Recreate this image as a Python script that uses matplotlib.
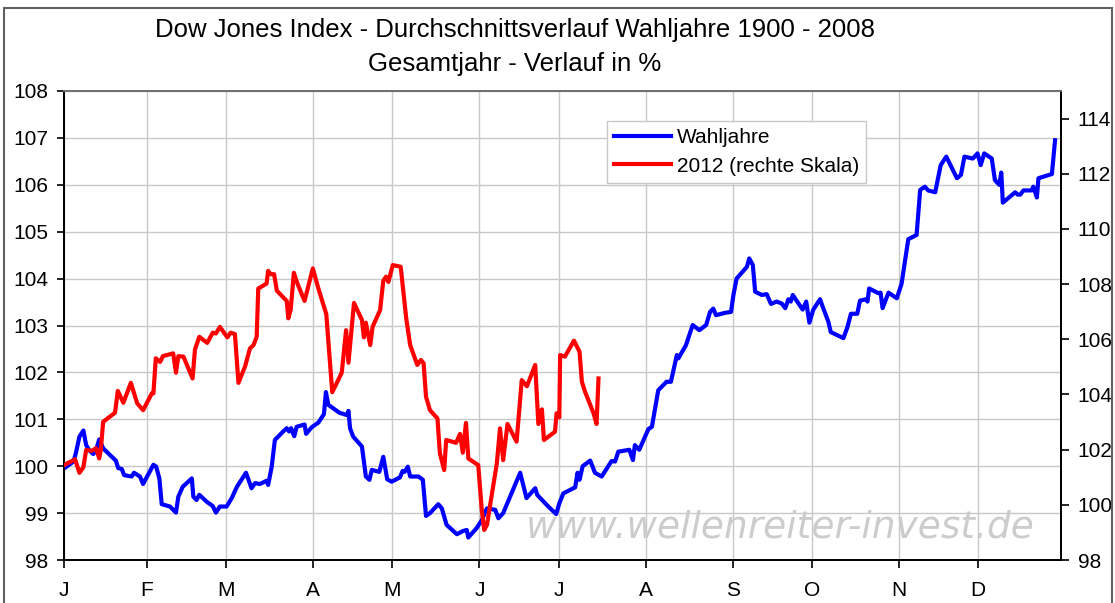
import numpy as np
import matplotlib; matplotlib.use('Agg')
import matplotlib.pyplot as plt
from matplotlib.patches import Rectangle

plt.rcParams['font.family'] = ['Liberation Sans', 'DejaVu Sans']

# trading-day index in the year, value (left scale, Wahljahre average)
BLUE_X = [0, 2.4, 3.0, 3.9, 4.9, 5.6, 6.4, 7.4, 8.1, 8.9, 9.9, 11.6, 13.1, 13.7, 14.6, 15.2, 17.1, 17.7, 19.2, 20.0,
          21.0, 22.6, 23.3, 24.1, 24.7, 26.8, 28.3, 28.9, 30.0, 32.3, 32.7, 33.5, 34.2, 36.1, 37.6, 38.4, 39.4, 41.1,
          42.4, 43.7, 46.0, 47.4, 48.3, 49.5, 51.2, 51.6, 52.5, 53.3, 55.4, 56.3, 56.9, 57.4, 58.2, 58.8, 60.8, 61.2,
          62.6, 64.3, 65.7, 66.2, 66.8, 69.6, 71.5, 71.9, 72.3, 73.1, 75.3, 75.7, 76.3, 77.2, 77.8, 79.7, 80.7, 81.7,
          82.8, 84.9, 85.6, 86.1, 86.9, 87.5, 89.6, 90.7, 91.5, 92.5, 94.6, 95.5, 96.7, 99.3, 100.9, 101.8, 102.2,
          104.3, 105.6, 106.9, 109.0, 109.8, 111.0, 115.3, 116.9, 119.1, 119.6, 122.4, 124.4, 125.2, 126.2, 129.2,
          129.8, 130.3, 131.1, 133.0, 134.2, 135.9, 138.4, 139.3, 140.1, 142.9, 143.8, 144.3, 145.4, 147.7, 148.6,
          150.2, 152.3, 153.4, 154.9, 155.3, 157.2, 158.9, 160.6, 162.3, 163.3, 164.1, 164.8, 167.1, 168.6, 169.2,
          170.0, 172.6, 173.2, 174.1, 174.7, 176.4, 177.6, 178.7, 180.1, 181.4, 182.3, 183.1, 183.7, 184.2, 186.7,
          187.6, 188.4, 189.4, 191.1, 191.9, 193.2, 193.8, 197.0, 198.0, 198.9, 200.5, 201.2, 202.7, 203.1, 203.5,
          205.8, 206.4, 206.9, 208.4, 210.5, 211.7, 213.4, 215.5, 216.4, 217.6, 218.4, 220.2, 221.6, 223.0, 225.7,
          226.7, 227.6, 229.7, 230.9, 231.7, 232.6, 234.5, 235.3, 236.4, 236.9, 237.3, 240.4, 241.1, 241.7, 242.5,
          244.6, 245.0, 245.9, 246.3, 249.7, 250.5]
BLUE_Y = [99.95, 100.1, 100.28, 100.63, 100.76, 100.45, 100.34, 100.26, 100.34, 100.57, 100.38, 100.24, 100.12, 99.96,
          99.94, 99.81, 99.78, 99.86, 99.78, 99.62, 99.78, 100.03, 99.99, 99.74, 99.19, 99.14, 99.01, 99.35, 99.56,
          99.74, 99.35, 99.28, 99.39, 99.24, 99.15, 99.01, 99.14, 99.14, 99.32, 99.56, 99.86, 99.53, 99.64, 99.62,
          99.69, 99.60, 99.99, 100.56, 100.74, 100.81, 100.74, 100.81, 100.64, 100.84, 100.89, 100.69, 100.83,
          100.93, 101.11, 101.58, 101.31, 101.14, 101.09, 101.18, 100.81, 100.63, 100.42, 100.17, 99.78, 99.71,
          99.92, 99.88, 100.20, 99.72, 99.67, 99.76, 99.90, 99.88, 99.99, 99.78, 99.78, 99.71, 98.94, 99.00, 99.19,
          99.10, 98.75, 98.55, 98.62, 98.64, 98.48, 98.68, 98.85, 99.10, 99.07, 98.89, 99.00, 99.86, 99.32, 99.53,
          99.39, 99.14, 98.98, 99.21, 99.42, 99.55, 99.86, 99.71, 100.00, 100.12, 99.86, 99.78, 100.11, 100.10,
          100.31, 100.35, 100.13, 100.45, 100.35, 100.79, 100.84, 101.62, 101.80, 101.80, 102.37, 102.30, 102.58,
          103.01, 102.90, 103.01, 103.29, 103.36, 103.22, 103.27, 103.29, 103.65, 104.00, 104.25, 104.43, 104.29,
          103.72, 103.65, 103.67, 103.46, 103.51, 103.47, 103.37, 103.56, 103.51, 103.65, 103.34, 103.51, 103.06,
          103.34, 103.56, 103.37, 103.08, 102.86, 102.73, 102.96, 103.25, 103.25, 103.53, 103.56, 103.51, 103.79,
          103.69, 103.70, 103.37, 103.70, 103.58, 103.89, 104.84, 104.93, 105.89, 105.96, 105.88, 105.84, 106.42,
          106.60, 106.14, 106.21, 106.60, 106.56, 106.67, 106.42, 106.67, 106.56, 106.10, 106.00, 106.26, 105.62,
          105.84, 105.79, 105.79, 105.88, 105.88, 105.96, 105.73, 106.14, 106.23, 106.95]

# 2012 (right scale)
RED_X = [0, 2.8, 3.9, 4.9, 5.6, 7.0, 8.1, 8.4, 8.9, 9.3, 9.9, 12.9, 13.6, 15.0, 16.9, 18.5, 20.0, 22.2, 22.6, 23.2,
         24.3, 25.0, 27.6, 28.3, 28.9, 30.2, 32.5, 33.1, 34.2, 36.2, 37.6, 38.4, 39.4, 41.3, 42.1, 43.2, 44.1, 45.8,
         47.0, 47.9, 48.7, 49.1, 51.2, 51.6, 52.2, 53.1, 53.8, 56.3, 56.7, 57.3, 58.1, 59.0, 60.8, 62.9, 64.3, 66.3,
         67.8, 70.2, 71.3, 71.9, 73.3, 75.3, 75.8, 76.3, 77.4, 78.0, 79.9, 80.7, 81.4, 82.0, 83.1, 85.1, 86.5, 87.5,
         89.3, 90.2, 90.9, 91.5, 92.5, 94.4, 95.0, 96.1, 96.6, 99.1, 100.1, 100.8, 101.6, 102.2, 104.7, 105.6, 106.2,
         106.9, 109.4, 110.2, 111.0, 112.1, 114.4, 115.7, 117.0, 119.1, 119.9, 120.8, 121.3, 124.1, 124.5, 125.2,
         125.4, 126.6, 128.9, 130.3, 130.9, 131.7, 133.8, 134.6, 135.1]
RED_Y = [101.44, 101.65, 101.16, 101.36, 101.99, 101.96, 102.05, 101.92, 101.68, 101.99, 103.01, 103.34, 104.13,
         103.70, 104.42, 103.68, 103.43, 104.04, 104.04, 105.31, 105.18, 105.39, 105.49, 104.79, 105.39, 105.37,
         104.58, 105.63, 106.09, 105.87, 106.24, 106.21, 106.45, 106.07, 106.24, 106.19, 104.42, 105.03, 105.67,
         105.79, 106.09, 107.84, 108.02, 108.48, 108.36, 108.36, 107.76, 107.39, 106.76, 107.08, 108.41, 108.02,
         107.39, 108.57, 107.84, 106.91, 104.08, 104.79, 106.33, 105.15, 107.32, 106.70, 106.07, 106.60, 105.79,
         106.45, 107.06, 108.12, 108.27, 108.08, 108.69, 108.63, 106.76, 105.79, 105.07, 105.25, 105.13, 103.92,
         103.43, 103.13, 101.87, 101.26, 102.35, 102.25, 102.57, 101.89, 102.97, 101.68, 101.44, 99.81, 99.09,
         99.27, 101.50, 102.77, 101.62, 102.93, 102.29, 104.52, 104.30, 105.07, 102.93, 103.46, 102.35, 102.65,
         103.32, 103.17, 105.43, 105.37, 105.95, 105.55, 104.46, 104.10, 103.34, 102.93, 104.58]

MONTH_POS = [0, 21, 41, 63, 83, 105, 125, 147, 169, 189, 211, 231]
MONTHS = ['J', 'F', 'M', 'A', 'M', 'J', 'J', 'A', 'S', 'O', 'N', 'D']
LEFT_TICKS = list(range(98, 109))
RIGHT_TICKS = list(range(98, 115, 2))

W, H = 1115, 603
fig = plt.figure(figsize=(W / 100, H / 100), dpi=100)
fig.patch.set_facecolor('white')
fig.patches.append(Rectangle((4 / W, -0.01), 1108 / W, 1.01 - 8 / H, transform=fig.transFigure,
                             fill=False, edgecolor='#606060', linewidth=1.5))
ax = fig.add_axes([64 / W, 1 - 560 / H, 997 / W, 469 / H])
ax2 = ax.twinx()

ax.set_xlim(0, 252); ax.set_ylim(98, 108); ax2.set_ylim(98, 115)
ax.set_yticks(LEFT_TICKS); ax2.set_yticks(RIGHT_TICKS)
ax.set_xticks(MONTH_POS); ax.set_xticklabels(MONTHS)
ax.grid(True, color='#c8c8c8', linewidth=1.0, zorder=0)
ax.tick_params(axis='y', labelsize=15, length=5, width=1.2, pad=6)
ax.tick_params(axis='x', labelsize=15, length=6, width=1.2, pad=9)
ax2.tick_params(axis='y', labelsize=15, length=6, width=1.2, pad=6)
for a in (ax, ax2):
    for s in ('left', 'right', 'bottom'):
        a.spines[s].set_color('black'); a.spines[s].set_linewidth(1.3)
    a.spines['top'].set_color('#707070'); a.spines['top'].set_linewidth(1.3)

fig.text(780 / W, 1 - 527 / H, 'www.wellenreiter-invest.de', fontsize=27, color='#cccccc', style='italic',
         family='DejaVu Sans', ha='center', va='center', zorder=1)

lb, = ax.plot(BLUE_X, BLUE_Y, color='#0000ff', linewidth=3, solid_joinstyle='round', zorder=3)
lr, = ax2.plot(RED_X, RED_Y, color='#ff0000', linewidth=3, solid_joinstyle='round', zorder=3)

leg = ax2.legend([lb, lr], ['Wahljahre', '2012 (rechte Skala)'], loc='upper left',
                 bbox_to_anchor=(607 / W, 1 - 121 / H), bbox_transform=fig.transFigure, borderaxespad=0,
                 fontsize=15, handlelength=2.7, handletextpad=0.3, labelspacing=0.45, borderpad=0.35,
                 fancybox=False, framealpha=1, edgecolor='#c8c8c8')
leg.get_frame().set_linewidth(1.0)

fig.text(515 / W, 1 - 30 / H, 'Dow Jones Index - Durchschnittsverlauf Wahljahre 1900 - 2008',
         fontsize=18.5, ha='center', va='center')
fig.text(515 / W, 1 - 64 / H, 'Gesamtjahr - Verlauf in %', fontsize=18.5, ha='center', va='center')

fig.savefig('out.png', dpi=100, facecolor='white')
